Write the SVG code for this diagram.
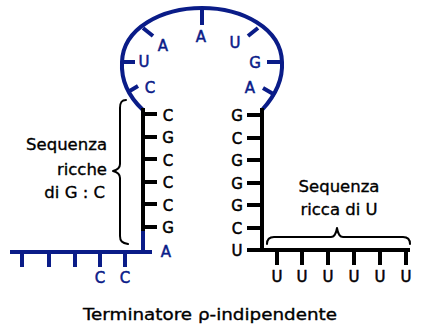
<svg xmlns="http://www.w3.org/2000/svg" width="436" height="332" viewBox="0 0 436 332">
  <style>
    .rna { fill: none; stroke: #0a1c88; stroke-width: 4; stroke-linecap: butt; }
    .dna { fill: none; stroke: #000; stroke-width: 4; stroke-linecap: butt; }
    .brace { fill: none; stroke: #000; stroke-width: 2; stroke-linecap: round; stroke-linejoin: round; }
    .b { font-family: "DejaVu Sans", "Liberation Sans", sans-serif; font-size: 15px; fill: #0a1c88; stroke: #0a1c88; stroke-width: 0.5; text-anchor: middle; dominant-baseline: central; }
    .k { font-family: "DejaVu Sans", "Liberation Sans", sans-serif; font-size: 15px; fill: #000; stroke: #000; stroke-width: 0.5; text-anchor: middle; dominant-baseline: central; }
    .note { font-family: "DejaVu Sans", "Liberation Sans", sans-serif; font-size: 16.5px; fill: #000; stroke: #000; stroke-width: 0.35; }
  </style>

  <!-- backbone strands -->
  <g id="connectors">
    <!-- hairpin loop -->
    <path class="rna" d="M143,110 C128,96 121,80 122,62 C123,28 162,8 202,8 C242,8 281,28 282,62 C283,80 274,97 262,110"/>
    <!-- 5' strand -->
    <path class="rna" d="M10,252 H152 M143,252 V230"/>
    <!-- left stem -->
    <path class="dna" d="M143,108 V231"/>
    <!-- right stem and U tail -->
    <path class="dna" d="M262,108 V252 M260,250 H410"/>
  </g>

  <!-- loop bases -->
  <g id="loop">
    <path class="rna" d="M202,8 V25 M143,28 L153,36 M122,62 H135 M128,92 L138,86 M258,28 L248,36 M282,62 H267 M275,95 L263,88"/>
    <text class="b" x="201" y="37">A</text>
    <text class="b" x="163" y="46">A</text>
    <text class="b" x="144" y="62">U</text>
    <text class="b" x="150" y="88">C</text>
    <text class="b" x="235" y="43">U</text>
    <text class="b" x="255" y="63">G</text>
    <text class="b" x="250" y="88">A</text>
  </g>

  <!-- left stem bases -->
  <g id="left-stem">
    <path class="dna" d="M143,114 H157 M143,137 H157 M143,159 H157 M143,182 H157 M143,204 H157 M143,227 H157"/>
    <text class="k" x="168" y="116">C</text>
    <text class="k" x="168" y="138">G</text>
    <text class="k" x="168" y="161">C</text>
    <text class="k" x="168" y="183">C</text>
    <text class="k" x="168" y="206">C</text>
    <text class="k" x="168" y="228">G</text>
  </g>

  <!-- 5' strand bases -->
  <g id="upstream">
    <path class="rna" d="M22,252 V267 M49,252 V267 M75,252 V267 M100,252 V267 M125,252 V267"/>
    <text class="b" x="166" y="252">A</text>
    <text class="b" x="100" y="278">C</text>
    <text class="b" x="125" y="278">C</text>
  </g>

  <!-- right stem bases -->
  <g id="right-stem">
    <path class="dna" d="M262,115 H247 M262,138 H247 M262,160 H247 M262,183 H247 M262,205 H247 M262,228 H247 M262,250 H247"/>
    <text class="k" x="237" y="116">G</text>
    <text class="k" x="237" y="139">C</text>
    <text class="k" x="237" y="161">G</text>
    <text class="k" x="237" y="184">G</text>
    <text class="k" x="237" y="206">G</text>
    <text class="k" x="237" y="229">C</text>
    <text class="k" x="237" y="251">U</text>
  </g>

  <!-- U-rich tail -->
  <g id="u-tail">
    <path class="dna" d="M277,250 V265 M302,250 V265 M328,250 V265 M354,250 V265 M380,250 V265 M406,250 V265"/>
    <text class="k" x="277" y="277">U</text>
    <text class="k" x="302" y="277">U</text>
    <text class="k" x="328" y="277">U</text>
    <text class="k" x="354" y="277">U</text>
    <text class="k" x="380" y="277">U</text>
    <text class="k" x="406" y="277">U</text>
  </g>

  <!-- GC-rich region label -->
  <g id="gc-label">
    <path class="brace" d="M126,100 C121,100 120,103 120,108 L120,164 C120,168 117,170 113,171 C117,172 120,174 120,178 L120,236 C120,241 122,243 128,244"/>
    <text class="note" x="107" y="150" text-anchor="end">Sequenza</text>
    <text class="note" x="107" y="175" text-anchor="end">ricche</text>
    <text class="note" x="105" y="198" text-anchor="end">di G : C</text>
  </g>

  <!-- U-rich region label -->
  <g id="u-label">
    <path class="brace" d="M267,244 C267,239 269,237 274,237 L331,237 C334,237 336,234 337,228 C338,234 340,237 343,237 L403,237 C407,237 410,239 410,244"/>
    <text class="note" x="339" y="192" text-anchor="middle">Sequenza</text>
    <text class="note" x="339" y="215" text-anchor="middle">ricca di U</text>
  </g>

  <!-- caption -->
  <text class="note" x="210" y="320" text-anchor="middle" font-size="17" textLength="254" lengthAdjust="spacingAndGlyphs">Terminatore ρ-indipendente</text>
</svg>
